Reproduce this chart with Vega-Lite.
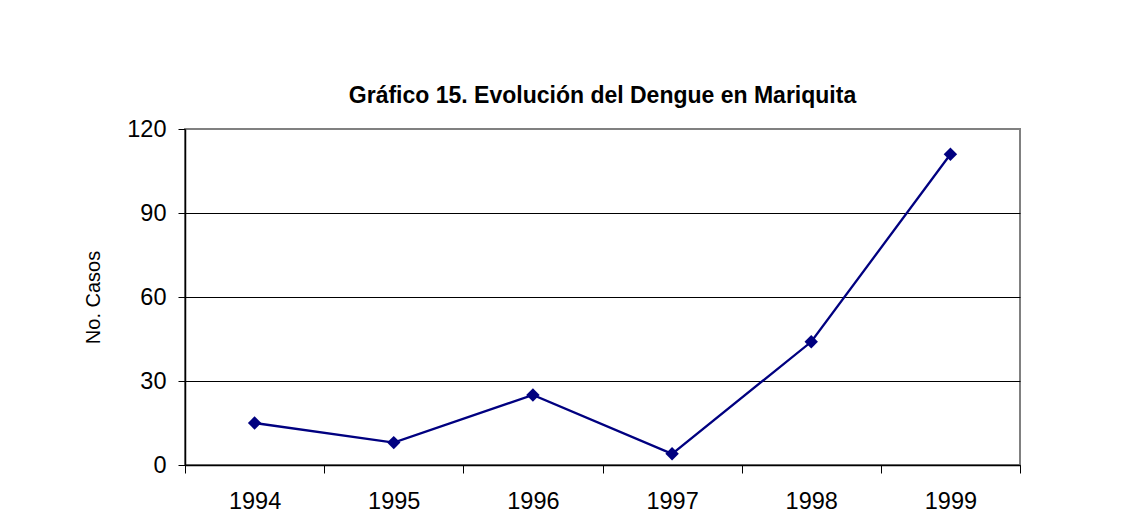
{
  "$schema": "https://vega.github.io/schema/vega-lite/v6.json",
  "autosize": {"type": "none"},
  "padding": {"left": 185, "top": 129, "right": 121, "bottom": 54},
  "width": 835,
  "height": 336,
  "background": "white",
  "title": {
    "text": "Gráfico 15. Evolución del Dengue en Mariquita",
    "font": "Liberation Sans",
    "fontSize": 23,
    "fontWeight": "bold",
    "color": "black",
    "anchor": "middle",
    "baseline": "alphabetic",
    "offset": -9
  },
  "data": {
    "values": [
      {"year": "1994", "casos": 15},
      {"year": "1995", "casos": 8},
      {"year": "1996", "casos": 25},
      {"year": "1997", "casos": 4},
      {"year": "1998", "casos": 44},
      {"year": "1999", "casos": 111}
    ]
  },
  "encoding": {
    "x": {
      "field": "year",
      "type": "ordinal",
      "bandPosition": 0.5,
      "scale": {"type": "band", "paddingInner": 0, "paddingOuter": 0},
      "axis": {
        "title": null,
        "labelAngle": 0,
        "labelFont": "Liberation Sans",
        "labelFontSize": 23.5,
        "labelColor": "black",
        "labelPadding": 16,
        "tickBand": "extent",
        "tickSize": 8,
        "tickColor": "black",
        "tickWidth": 1,
        "domainColor": "black",
        "domainWidth": 1.5,
        "grid": false
      }
    },
    "y": {
      "field": "casos",
      "type": "quantitative",
      "scale": {"domain": [0, 120], "nice": false},
      "axis": {
        "title": "No. Casos",
        "titleFont": "Liberation Sans",
        "titleFontSize": 20,
        "titleFontWeight": "normal",
        "titleColor": "black",
        "titlePadding": 23,
        "values": [0, 30, 60, 90, 120],
        "labelFont": "Liberation Sans",
        "labelFontSize": 23.5,
        "labelColor": "black",
        "labelPadding": 12,
        "tickSize": 7,
        "tickColor": "black",
        "tickWidth": 1,
        "domainColor": "black",
        "domainWidth": 1.5,
        "grid": true,
        "gridColor": {"condition": {"test": "datum.value == 120", "value": "#808080"}, "value": "black"},
        "gridWidth": 1
      }
    }
  },
  "layer": [
    {"mark": {"type": "line", "color": "#000080", "strokeWidth": 2.3}},
    {"mark": {"type": "point", "shape": "diamond", "filled": true, "color": "#000080", "size": 180, "opacity": 1}}
  ],
  "config": {
    "view": {"stroke": "#808080", "strokeWidth": 2}
  }
}
